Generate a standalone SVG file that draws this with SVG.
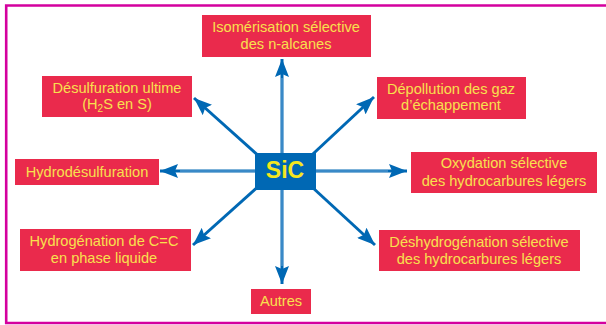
<svg xmlns="http://www.w3.org/2000/svg" width="606" height="325" viewBox="0 0 606 325">
<defs>
<style>
.box{fill:#ea2a4c}
.t{font-family:"Liberation Sans",Arial,sans-serif;font-size:14.6px;fill:#f8e04e;text-anchor:middle}
.ln{stroke:#0068b4;stroke-width:3;fill:none}
.hl{stroke:#7fb2e0;stroke-width:0.9;fill:none}
</style>
<marker id="ah" markerUnits="userSpaceOnUse" markerWidth="20" markerHeight="14" refX="18" refY="7" orient="auto">
<path d="M0,0 L18,7 L0,14 L3,7 Z" fill="#0068b4"/>
</marker>
</defs>
<rect width="606" height="325" fill="#fff"/>
<polyline points="606,5.5 6.2,5.5 6.2,323 606,323" fill="none" stroke="#d4009e" stroke-width="2.6"/>
<g id="connectors">
<line class="ln" x1="282" y1="160" x2="282" y2="59" marker-end="url(#ah)"/>
<line class="ln" x1="282" y1="180" x2="282" y2="284" marker-end="url(#ah)"/>
<line class="ln" x1="270" y1="171" x2="160" y2="171" marker-end="url(#ah)"/>
<line class="ln" x1="300" y1="171" x2="407" y2="171" marker-end="url(#ah)"/>
<line class="ln" x1="270" y1="166" x2="194" y2="98" marker-end="url(#ah)"/>
<line class="ln" x1="300" y1="166" x2="374" y2="97" marker-end="url(#ah)"/>
<line class="ln" x1="270" y1="176" x2="193" y2="245" marker-end="url(#ah)"/>
<line class="ln" x1="300" y1="176" x2="375" y2="245" marker-end="url(#ah)"/>
<line class="hl" x1="282" y1="153" x2="282" y2="78"/>
<line class="hl" x1="282" y1="189" x2="282" y2="266"/>
<line class="hl" x1="255" y1="171" x2="180" y2="171"/>
<line class="hl" x1="315" y1="171" x2="388" y2="171"/>
</g>
<g id="sic">
<rect x="255" y="153" width="61" height="37" fill="#0068b4"/>
<text x="285" y="178" font-family="'Liberation Sans',Arial,sans-serif" font-size="23" font-weight="bold" fill="#f5e61e" text-anchor="middle">SiC</text>
</g>
<g id="isomerisation">
<rect class="box" x="202" y="15" width="169" height="42"/>
<text class="t" x="286" y="32">Isomérisation sélective</text>
<text class="t" x="286" y="49">des n-alcanes</text>
</g>
<g id="desulfuration">
<rect class="box" x="42" y="76" width="150" height="41"/>
<text class="t" x="117" y="93">Désulfuration ultime</text>
<text class="t" x="117" y="109">(H<tspan font-size="10" dy="3">2</tspan><tspan dy="-3">S en S)</tspan></text>
</g>
<g id="depollution">
<rect class="box" x="377" y="77" width="149" height="42"/>
<text class="t" x="451" y="94">Dépollution des gaz</text>
<text class="t" x="451" y="110">d’échappement</text>
</g>
<g id="hydrodesulfuration">
<rect class="box" x="15" y="159" width="144" height="26"/>
<text class="t" x="87" y="177">Hydrodésulfuration</text>
</g>
<g id="oxydation">
<rect class="box" x="411" y="152" width="186" height="41"/>
<text class="t" x="504" y="168">Oxydation sélective</text>
<text class="t" x="504" y="186">des hydrocarbures légers</text>
</g>
<g id="hydrogenation">
<rect class="box" x="20" y="229" width="171" height="42"/>
<text class="t" x="104" y="246">Hydrogénation de C=C</text>
<text class="t" x="104" y="263">en phase liquide</text>
</g>
<g id="deshydrogenation">
<rect class="box" x="379" y="230" width="201" height="41"/>
<text class="t" x="479" y="247">Déshydrogénation sélective</text>
<text class="t" x="479" y="264">des hydrocarbures légers</text>
</g>
<g id="autres">
<rect class="box" x="251" y="289" width="60" height="25"/>
<text class="t" x="281" y="306">Autres</text>
</g>
</svg>
